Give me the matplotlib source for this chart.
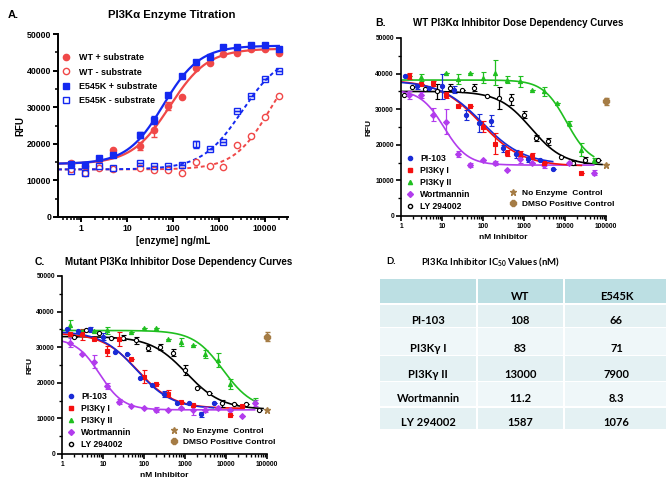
import numpy as np
import matplotlib.pyplot as plt
from matplotlib.lines import Line2D
from matplotlib.patches import Rectangle
from matplotlib.ticker import FixedLocator, LogLocator, NullFormatter, MultipleLocator

plt.rcParams['font.family'] = ['Liberation Sans', 'DejaVu Sans']
plt.rcParams['font.weight'] = 'bold'
plt.rcParams['axes.labelweight'] = 'bold'
plt.rcParams['mathtext.fontset'] = 'custom'
plt.rcParams['mathtext.rm'] = 'Lato:bold'

# ---------------- Panel A: enzyme titration ----------------
enz_x = [0.61, 1.22, 2.44, 4.88, 19.5, 39, 78, 156, 312, 625, 1250, 2500, 5000, 10000, 20000]
wt_plus = [14800, 14000, 15500, 18200, 19400, 23800, 30300, 32900, 40600, 42200, 44400, 44900, 46000, 46000, 44900]
wt_plus_err = [0, 0, 0, 0, 1000, 2000, 1000, 0, 0, 0, 0, 0, 0, 0, 0]
wt_minus = [13000, 12000, 13300, 13000, 13300, 12800, 12800, 12000, 15100, 13900, 13700, 19600, 22100, 27200, 33100]
mut_plus = [14500, 14200, 16000, 16900, 22400, 26500, 33300, 38500, 42400, 43800, 46400, 46400, 47100, 47100, 45800]
mut_plus_err = [0, 0, 0, 0, 700, 1000, 0, 0, 0, 0, 0, 0, 0, 0, 0]
mut_minus = [12700, 12100, 13900, 13300, 14700, 13900, 13900, 14200, 19900, 18500, 20600, 29000, 33100, 37600, 40000]
mut_minus_err = [0, 0, 0, 0, 0, 0, 0, 0, 1000, 0, 0, 0, 0, 0, 0]

# fitted curve parameters: bottom, top, EC50, hill
fit_wt_plus = [14500, 46000, 85, 1.05]
fit_mut_plus = [14500, 46800, 62, 1.1]
fit_wt_minus = [13000, 46000, 13000, 1.1]
fit_mut_minus = [13000, 45000, 3200, 1.0]

# ---------------- Panel B: WT inhibitor curves ----------------
b_pi103_x = [1.22, 2.44, 4.88, 9.77, 19.5, 39, 78, 156, 312, 625, 1250, 2500, 5000]
b_pi103_y = [39200, 36400, 36000, 36400, 35500, 28400, 26100, 26800, 19000, 17400, 16000, 15800, 13100]
b_pi103_e = [0, 700, 0, 3500, 1000, 1500, 2500, 1500, 1000, 1000, 700, 0, 0]
b_g1_x = [1.53, 3.05, 6.1, 12.2, 24.4, 48.8, 97.7, 195, 391, 781, 1563, 3125, 25000]
b_g1_y = [39400, 37000, 37300, 34000, 30800, 30800, 25100, 20300, 17600, 17400, 16900, 15000, 12200]
b_g1_e = [800, 0, 700, 800, 0, 0, 1500, 3000, 800, 800, 800, 0, 0]
b_g2_x = [1.53, 3.05, 12.2, 24.4, 48.8, 97.7, 195, 391, 781, 1563, 3125, 6250, 12500, 25000, 50000]
b_g2_y = [39200, 39000, 40100, 38500, 40300, 38900, 40300, 38300, 37800, 35500, 35000, 31700, 26000, 18600, 15600]
b_g2_e = [0, 1000, 0, 1500, 0, 1500, 3500, 1000, 1500, 0, 1200, 0, 800, 1800, 800]
b_wort_x = [1.53, 3.05, 6.1, 12.2, 24.4, 48.8, 97.7, 195, 391, 781, 1563, 3125, 12500, 50000]
b_wort_y = [34000, 34000, 28400, 26500, 17400, 14400, 15800, 14800, 12900, 16000, 14800, 14200, 14800, 12200]
b_wort_e = [1000, 800, 1800, 3500, 800, 600, 0, 600, 0, 1000, 0, 600, 0, 600]
b_ly_x = [1.16, 1.9, 3.8, 7.6, 15.3, 30.5, 61, 122, 244, 488, 977, 1953, 3906, 7813, 15625, 31250, 62500]
b_ly_y = [34000, 36200, 35600, 35000, 36000, 35500, 36000, 33600, 33100, 32800, 28400, 21900, 21000, 16700, 15000, 15800, 15800]
b_ly_e = [0, 0, 0, 2000, 1000, 0, 1000, 0, 3000, 1500, 1000, 800, 1000, 0, 600, 800, 0]
b_noenz = [100000, 14200]
b_dmso = [100000, 32200, 1000]
fit_b_pi103 = [14500, 38000, 95, 0.85]
fit_b_g1 = [14000, 38200, 88, 0.85]
fit_b_g2 = [14500, 38200, 11000, 1.5]
fit_b_wort = [14300, 35500, 11.2, 1.5]
fit_b_ly = [14200, 35000, 1500, 1.1]

# ---------------- Panel C: mutant inhibitor curves ----------------
c_pi103_x = [1.3, 2.44, 4.88, 9.77, 19.5, 39, 78, 156, 312, 625, 1250, 2500, 5000]
c_pi103_y = [35000, 34600, 35000, 33000, 28700, 28100, 21300, 19400, 16900, 14400, 14200, 11200, 14400]
c_pi103_e = [0, 0, 700, 1000, 0, 0, 0, 0, 800, 0, 0, 700, 0]
c_g1_x = [1.53, 3.05, 6.1, 12.2, 24.4, 48.8, 97.7, 195, 391, 781, 1563, 12500, 25000]
c_g1_y = [33700, 33600, 32300, 28900, 32200, 26600, 21700, 19700, 16900, 14700, 13800, 11000, 13600]
c_g1_e = [0, 1500, 0, 1500, 2000, 0, 1800, 0, 1000, 0, 0, 0, 0]
c_g2_x = [1.53, 3.05, 6.1, 12.2, 48.8, 97.7, 195, 391, 781, 1563, 3125, 6250, 12500, 50000]
c_g2_y = [36200, 34600, 34600, 34800, 34400, 35300, 35300, 32300, 31400, 30600, 28100, 26400, 19700, 15000]
c_g2_e = [1500, 0, 0, 1000, 0, 0, 0, 0, 1200, 0, 1000, 2000, 1500, 600]
c_wort_x = [1.53, 3.05, 6.1, 12.2, 24.4, 48.8, 97.7, 195, 391, 781, 1563, 3125, 6250, 12500, 25000, 50000]
c_wort_y = [31300, 28000, 25900, 19100, 14700, 13600, 13000, 12500, 12400, 12800, 12400, 12500, 12800, 12400, 10800, 14400]
c_wort_e = [1200, 0, 1800, 800, 700, 0, 0, 800, 0, 0, 1500, 800, 0, 0, 0, 800]
c_ly_x = [2, 3.9, 7.8, 15.6, 31.3, 62.5, 125, 250, 500, 977, 1953, 3906, 7813, 15625, 31250, 62500]
c_ly_y = [33000, 34800, 33900, 32700, 32700, 32000, 29700, 30100, 28500, 23600, 18400, 17000, 14200, 14000, 14000, 12500]
c_ly_e = [0, 0, 0, 0, 800, 1000, 800, 800, 1000, 1500, 0, 0, 1000, 0, 0, 0]
c_noenz = [100000, 12500]
c_dmso = [100000, 33000, 1200]
fit_c_pi103 = [12700, 34500, 66, 1.0]
fit_c_g1 = [12800, 34000, 71, 1.0]
fit_c_g2 = [12500, 34700, 8500, 1.2]
fit_c_wort = [12400, 32500, 8.3, 1.5]
fit_c_ly = [12500, 33000, 1076, 1.0]

# ---------------- Panel D: IC50 table ----------------
ic50_header = ['', 'WT', 'E545K']
ic50_names = ['PI-103', 'PI3Kγ I', 'PI3Kγ II', 'Wortmannin', 'LY 294002']
ic50_wt = ['108', '83', '13000', '11.2', '1587']
ic50_mut = ['66', '71', '7900', '8.3', '1076']

y_ticks = [0, 10000, 20000, 30000, 40000, 50000]

BLUE = '#1a2bd6'
RED = '#f50f0f'
GREEN = '#1fbf1f'
PURPLE = '#b23ced'
BROWN = '#a57c45'


def rise(x, p):
    return p[0] + (p[1] - p[0]) / (1 + (p[2] / x) ** p[3])


def fall(x, p):
    return p[0] + (p[1] - p[0]) / (1 + (x / p[2]) ** p[3])


W, H = 666, 480
fig = plt.figure(figsize=(6.66, 4.8), dpi=100)


def box(l, t, r, b):
    return [l / W, 1 - b / H, (r - l) / W, (b - t) / H]


def style(ax, xmin, xmax, xt, fs, lw):
    ax.set_xscale('log')
    ax.set_xlim(xmin, xmax)
    ax.set_ylim(0, 50000)
    for s in ['top', 'right']:
        ax.spines[s].set_visible(False)
    for s in ['left', 'bottom']:
        ax.spines[s].set_linewidth(lw)
    ax.yaxis.set_major_locator(FixedLocator(y_ticks))
    ax.set_yticklabels([str(v) for v in y_ticks])
    ax.yaxis.set_minor_locator(MultipleLocator(5000))
    ax.xaxis.set_major_locator(FixedLocator(xt))
    ax.set_xticklabels([str(v) for v in xt])
    ax.xaxis.set_minor_locator(LogLocator(base=10, subs=np.arange(2, 10)))
    ax.xaxis.set_minor_formatter(NullFormatter())
    ax.tick_params(which='major', length=3.5, width=lw, labelsize=fs, pad=1.5)
    ax.tick_params(which='minor', length=2, width=lw * 0.8)
    for lab in ax.get_xticklabels() + ax.get_yticklabels():
        lab.set_fontweight('bold')


# ---- A ----
axA = fig.add_axes(box(58, 34, 288, 217))
style(axA, 10 ** -0.5, 10 ** 4.5, [1, 10, 100, 1000, 10000], 6.3, 1.4)
xs = np.logspace(-0.5, np.log10(20000), 300)
RA = '#f04848'
BA = '#1428f0'
axA.plot(xs, rise(xs, fit_wt_plus), color=RA, lw=1.6)
axA.plot(xs, rise(xs, fit_mut_plus), color=BA, lw=1.6)
axA.plot(xs, rise(xs, fit_wt_minus), color=RA, lw=1.4, ls=(0, (2, 1.5)))
axA.plot(xs, rise(xs, fit_mut_minus), color=BA, lw=1.4, ls=(0, (2, 1.5)))
axA.errorbar(enz_x, wt_plus, yerr=wt_plus_err, fmt='o', color=RA, ms=4.5, capsize=2, elinewidth=1)
axA.errorbar(enz_x, wt_minus, fmt='o', mfc='white', mec=RA, mew=1, ms=4.5, color=RA)
axA.errorbar(enz_x, mut_plus, yerr=mut_plus_err, fmt='s', color=BA, ms=4.5, capsize=2, elinewidth=1)
axA.errorbar(enz_x, mut_minus, yerr=mut_minus_err, fmt='s', mfc='none', mec=BA, mew=1, ms=4.5,
             color=BA, capsize=2, elinewidth=1)
hA = [Line2D([], [], ls='none', marker='o', color=RA, ms=4.5),
      Line2D([], [], ls='none', marker='o', mfc='white', mec=RA, ms=4.5),
      Line2D([], [], ls='none', marker='s', color=BA, ms=4.5),
      Line2D([], [], ls='none', marker='s', mfc='white', mec=BA, ms=4.5)]
axA.legend(hA, ['WT + substrate', 'WT - substrate', 'E545K + substrate', 'E545K - substrate'],
           loc='upper left', bbox_to_anchor=(0.0, 0.915), frameon=False, fontsize=6.5,
           handlelength=1.0, handletextpad=0.9, labelspacing=0.6, borderaxespad=0)
axA.set_ylabel('RFU', fontsize=7, labelpad=1)
axA.set_xlabel('[enzyme] ng/mL', fontsize=7, labelpad=2)
fig.text(8 / W, 1 - 15 / H, 'A.', fontsize=8, va='center')
fig.text(172 / W, 1 - 15 / H, 'PI3Kα Enzyme Titration', fontsize=8.2, ha='center', va='center')


def dose_panel(ax, sets, noenz, dmso):
    style(ax, 1, 100000, [1, 10, 100, 1000, 10000, 100000], 4.8, 1.2)
    for x, y, e, p, col, mk, mfc, xend in sets:
        xc = np.logspace(0, np.log10(xend), 300)
        ax.plot(xc, fall(xc, p), color=col, lw=1.2, zorder=2)
        ax.errorbar(x, y, yerr=e, fmt=mk, color=col, mfc=mfc, mec=col, ms=3, mew=0.8,
                    capsize=1.8, elinewidth=0.9, zorder=3, clip_on=False)
    ax.plot(noenz[0], noenz[1], marker='*', color=BROWN, ms=5, ls='none', clip_on=False, zorder=4)
    ax.errorbar(dmso[0], dmso[1], yerr=dmso[2], fmt='8', color=BROWN, ms=4, capsize=1.8,
                elinewidth=0.9, clip_on=False, zorder=4)
    h1 = [Line2D([], [], ls='none', marker='o', color=BLUE, ms=3),
          Line2D([], [], ls='none', marker='s', color=RED, ms=3),
          Line2D([], [], ls='none', marker='^', color=GREEN, ms=3),
          Line2D([], [], ls='none', marker='D', color=PURPLE, ms=3),
          Line2D([], [], ls='none', marker='o', mfc='white', mec='black', ms=3)]
    leg = ax.legend(h1, ['PI-103', 'PI3Kγ I', 'PI3Kγ II', 'Wortmannin', 'LY 294002'],
                    loc='lower left', bbox_to_anchor=(0.0, 0.0), frameon=False, fontsize=6.2,
                    handlelength=1.0, handletextpad=0.6, labelspacing=0.35, borderaxespad=0.2)
    ax.add_artist(leg)
    h2 = [Line2D([], [], ls='none', marker='*', color=BROWN, ms=5),
          Line2D([], [], ls='none', marker='8', color=BROWN, ms=4)]
    ax.legend(h2, ['No Enzyme  Control', 'DMSO Positive Control'], loc='lower left',
              bbox_to_anchor=(0.5, 0.015), frameon=False, fontsize=6.0, handlelength=1.0,
              handletextpad=0.6, labelspacing=0.45, borderaxespad=0.2)
    ax.set_ylabel('RFU', fontsize=6, labelpad=2)
    ax.set_xlabel('nM Inhibitor', fontsize=6, labelpad=3)


# ---- B ----
axB = fig.add_axes(box(401, 38, 606, 216))
dose_panel(axB, [
    (b_g2_x, b_g2_y, b_g2_e, fit_b_g2, GREEN, '^', GREEN, 50000),
    (b_ly_x, b_ly_y, b_ly_e, fit_b_ly, 'black', 'o', 'white', 80000),
    (b_wort_x, b_wort_y, b_wort_e, fit_b_wort, PURPLE, 'D', PURPLE, 50000),
    (b_g1_x, b_g1_y, b_g1_e, fit_b_g1, RED, 's', RED, 25000),
    (b_pi103_x, b_pi103_y, b_pi103_e, fit_b_pi103, BLUE, 'o', BLUE, 5000),
], b_noenz, b_dmso)
fig.text(375 / W, 1 - 23 / H, 'B.', fontsize=7.5, va='center')
fig.text(518 / W, 1 - 23 / H, 'WT PI3Kα Inhibitor Dose Dependency Curves', fontsize=7,
         ha='center', va='center')

# ---- C ----
axC = fig.add_axes(box(62, 276, 267, 454))
dose_panel(axC, [
    (c_g2_x, c_g2_y, c_g2_e, fit_c_g2, GREEN, '^', GREEN, 50000),
    (c_ly_x, c_ly_y, c_ly_e, fit_c_ly, 'black', 'o', 'white', 80000),
    (c_wort_x, c_wort_y, c_wort_e, fit_c_wort, PURPLE, 'D', PURPLE, 50000),
    (c_g1_x, c_g1_y, c_g1_e, fit_c_g1, RED, 's', RED, 25000),
    (c_pi103_x, c_pi103_y, c_pi103_e, fit_c_pi103, BLUE, 'o', BLUE, 5000),
], c_noenz, c_dmso)
fig.text(35 / W, 1 - 262 / H, 'C.', fontsize=7.5, va='center')
fig.text(179 / W, 1 - 262 / H, 'Mutant PI3Kα Inhibitor Dose Dependency Curves', fontsize=7,
         ha='center', va='center')

# ---- D: table ----
axD = fig.add_axes([0, 0, 1, 1], zorder=-1)
axD.set_xlim(0, W)
axD.set_ylim(H, 0)
axD.axis('off')
cols = [(380, 476), (478, 563), (565, 668)]
rows = [(279, 303), (305, 327), (328, 355), (356, 381), (382, 406), (408, 429)]
row_y = [297, 321, 348, 375, 399, 423]
fills = ['#bcdfe3', '#e4f1f3', '#eff7f9', '#e4f1f3', '#eff7f9', '#e4f1f3']
cells = [ic50_header] + [[n, a, b] for n, a, b in zip(ic50_names, ic50_wt, ic50_mut)]
for r, (top, bot) in enumerate(rows):
    for c, (left, right) in enumerate(cols):
        axD.add_patch(Rectangle((left, top), right - left, bot - top, color=fills[r], lw=0))
        axD.text((left + right) / 2, row_y[r], cells[r][c], ha='center', va='center',
                 fontsize=8, family=['Lato', 'DejaVu Sans'], fontweight='bold')
axD.text(386, 262, 'D.', fontsize=6.8, va='center', family=['Lato', 'DejaVu Sans'], fontweight='bold')
axD.text(421, 262, r'PI3Kα Inhibitor IC$_{\rm 50}$ Values (nM)', fontsize=6.8, va='center',
         family=['Lato', 'DejaVu Sans'], fontweight='bold')

fig.savefig('out.png', dpi=100)
